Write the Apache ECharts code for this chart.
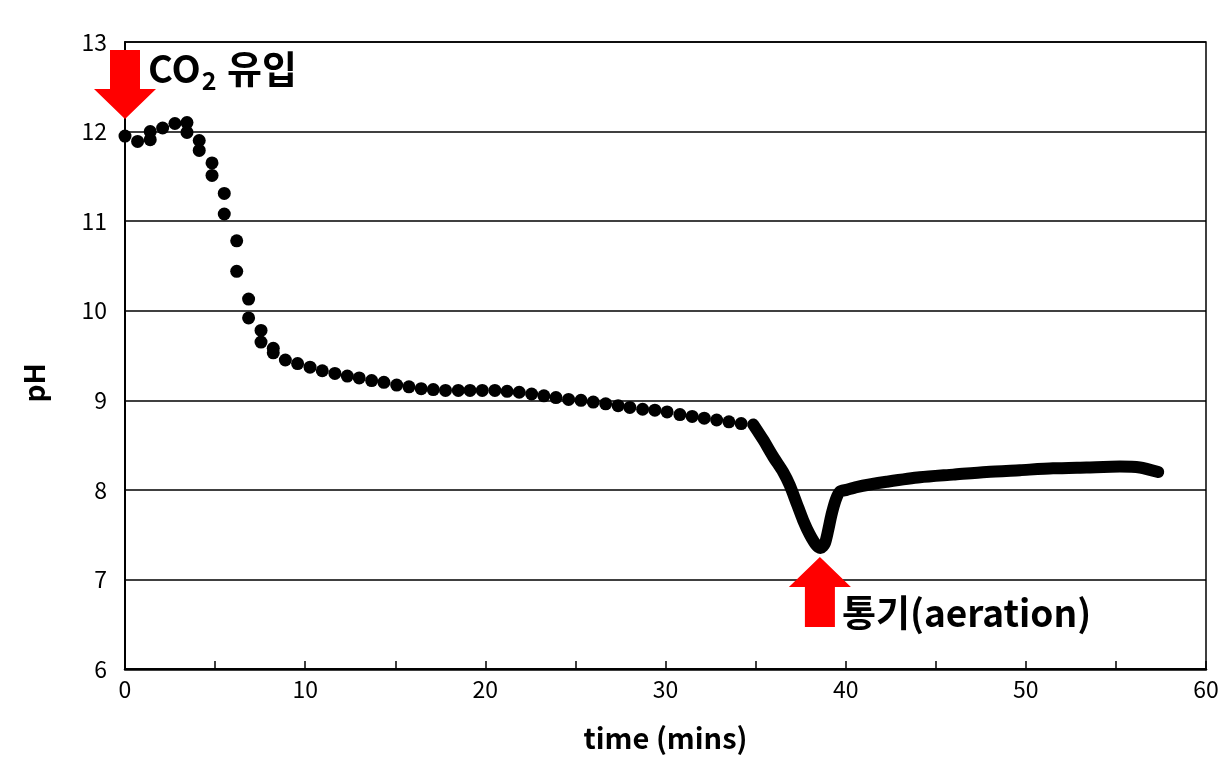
<!DOCTYPE html>
<html>
<head>
<meta charset="utf-8">
<script src="https://cdn.jsdelivr.net/npm/echarts@6/dist/echarts.min.js"></script>
<style>html,body{margin:0;padding:0;background:#fff}#c{width:1227px;height:780px}</style>
</head>
<body>
<div id="c"></div>
<script>
// Sparse sampled readings (dots)
const dotsTime = [0, 0.70, 1.40, 1.40, 2.09, 2.77, 3.44, 3.44, 4.12, 4.12, 4.83, 4.83, 5.51, 5.51, 6.20, 6.20, 6.86, 6.86, 7.55, 7.55, 8.23, 8.23, 8.90, 9.58, 10.27, 10.95, 11.65, 12.34, 13.0, 13.69, 14.37, 15.08, 15.76, 16.44, 17.11, 17.79, 18.5, 19.15, 19.83, 20.53, 21.21, 21.88, 22.57, 23.25, 23.92, 24.62, 25.31, 25.99, 26.68, 27.37, 28.02, 28.73, 29.41, 30.09, 30.80, 31.48, 32.15, 32.84, 33.52, 34.20];
const dotsPH = [11.95, 11.89, 12.00, 11.91, 12.04, 12.09, 12.10, 11.99, 11.90, 11.79, 11.65, 11.51, 11.31, 11.08, 10.78, 10.44, 10.13, 9.92, 9.78, 9.65, 9.58, 9.53, 9.45, 9.41, 9.37, 9.33, 9.30, 9.27, 9.25, 9.22, 9.20, 9.17, 9.15, 9.13, 9.12, 9.11, 9.11, 9.11, 9.11, 9.11, 9.10, 9.09, 9.07, 9.05, 9.03, 9.01, 9.00, 8.98, 8.96, 8.94, 8.92, 8.90, 8.89, 8.87, 8.84, 8.82, 8.80, 8.78, 8.76, 8.74];
// Dense readings (rendered as a thick curve)
const curveTime = [34.87, 35.42, 35.98, 36.53, 36.90, 37.28, 37.64, 38.01, 38.38, 38.60, 38.84, 39.03, 39.21, 39.45, 39.68, 40.05, 40.6, 41.34, 42.27, 44.12, 45.97, 47.82, 49.67, 51.51, 53.37, 55.22, 56.33, 57.35];
const curvePH = [8.73, 8.56, 8.37, 8.20, 8.05, 7.85, 7.66, 7.50, 7.38, 7.35, 7.40, 7.55, 7.72, 7.89, 7.98, 8.00, 8.03, 8.06, 8.09, 8.14, 8.17, 8.20, 8.22, 8.24, 8.25, 8.26, 8.25, 8.20];
// Annotation anchors (arrow tips, in data coords)
const co2Arrow = [0, 12.14];
const aerationArrow = [38.57, 7.25];
const xTicks = [0, 10, 20, 30, 40, 50, 60];

const FONT = '"Noto Sans CJK KR", "Noto Sans", sans-serif';
const chart = echarts.init(document.getElementById('c'), null, {renderer: 'canvas'});
const zip = (a, b) => a.map((v, i) => [v, b[i]]);

chart.setOption({
  animation: false,
  backgroundColor: '#fff',
  grid: {left: 125, right: 21, top: 42, bottom: 111, show: true, borderColor: '#000', borderWidth: 1.5, backgroundColor: 'transparent'},
  xAxis: {
    type: 'value', min: 0, max: 60, interval: 10,
    axisLine: {show: true, lineStyle: {color: '#000', width: 2.5}},
    axisTick: {show: true, inside: true, length: 8, lineStyle: {color: '#000', width: 1.5}},
    minorTick: {show: true, splitNumber: 2, length: 8, lineStyle: {color: '#000', width: 1.5}},
    splitLine: {show: false},
    axisLabel: {color: '#000', fontSize: 23, fontFamily: FONT, margin: 9,
      formatter: v => xTicks.includes(v) ? String(v) : ''},
    name: 'time (mins)', nameLocation: 'middle', nameGap: 54,
    nameTextStyle: {color: '#000', fontSize: 29, fontWeight: 'bold', fontFamily: FONT}
  },
  yAxis: {
    type: 'value', min: 6, max: 13, interval: 1,
    axisLine: {show: true, lineStyle: {color: '#000', width: 2}},
    axisTick: {show: false},
    splitLine: {show: true, lineStyle: {color: '#000', width: 1.5}},
    axisLabel: {color: '#000', fontSize: 23, fontFamily: FONT, margin: 18}
  },
  series: [
    {type: 'scatter', data: zip(dotsTime, dotsPH), symbol: 'circle', symbolSize: 13,
     itemStyle: {color: '#000', opacity: 1}, z: 3},
    {type: 'line', data: zip(curveTime, curvePH), showSymbol: false, symbol: 'none', smooth: 0.25,
     lineStyle: {color: '#000', width: 12, cap: 'round', join: 'round'}, z: 3}
  ]
});

function downArrow(tip) {
  const [x, y] = tip;
  return [[x, y], [x - 31, y - 30], [x - 15, y - 30], [x - 15, y - 69], [x + 15, y - 69], [x + 15, y - 30], [x + 31, y - 30]];
}
function upArrow(tip) {
  const [x, y] = tip;
  return [[x, y], [x + 31, y + 30], [x + 15, y + 30], [x + 15, y + 70], [x - 15, y + 70], [x - 15, y + 30], [x - 31, y + 30]];
}
const p1 = chart.convertToPixel({gridIndex: 0}, co2Arrow);
const p2 = chart.convertToPixel({gridIndex: 0}, aerationArrow);

chart.setOption({
  graphic: [
    {type: 'polygon', shape: {points: downArrow(p1)}, style: {fill: '#ff0000'}, z: 10},
    {type: 'polygon', shape: {points: upArrow(p2)}, style: {fill: '#ff0000'}, z: 10},
    {type: 'text', x: p1[0] + 23, y: p1[1] - 50, z: 11,
     style: {text: '{a|CO}{b|2}{a| 유입}', textVerticalAlign: 'middle',
       rich: {a: {fontSize: 38, fontWeight: 'bold', fontFamily: FONT, fill: '#000'},
              b: {fontSize: 25, fontWeight: 'bold', fontFamily: FONT, fill: '#000', padding: [22, 2, 0, 1]}}}},
    {type: 'text', x: p2[0] + 22, y: p2[1] + 56, z: 11,
     style: {text: '통기(aeration)', fontSize: 37, fontWeight: 'bold', fontFamily: FONT, fill: '#000', textVerticalAlign: 'middle'}},
    {type: 'text', x: 34, y: 383, rotation: Math.PI / 2, z: 11,
     style: {text: 'pH', fontSize: 28, fontWeight: 'bold', fontFamily: FONT, fill: '#000', textAlign: 'center', textVerticalAlign: 'middle'}}
  ]
});
</script>
</body>
</html>
